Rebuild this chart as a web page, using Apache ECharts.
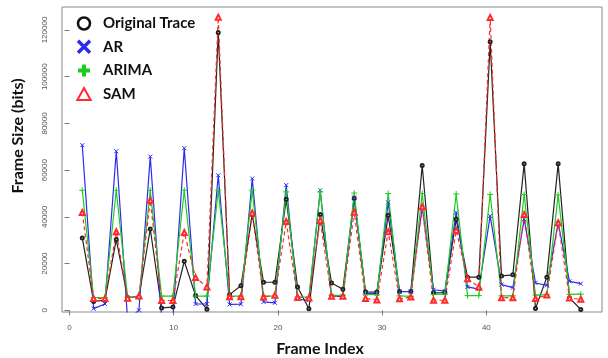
<!DOCTYPE html>
<html>
<head>
<meta charset="utf-8">
<script src="https://cdn.jsdelivr.net/npm/echarts@6/dist/echarts.min.js"></script>
<style>html,body{margin:0;padding:0;background:#fff;}#c{width:608px;height:358px;}</style>
</head>
<body>
<div id="c"></div>
<script>
const frameIndex = [1,2,3,4,5,6,7,8,9,10,11,12,13,14,15,16,17,18,19,20,21,22,23,24,25,26,27,28,29,30,31,32,33,34,35,36,37,38,39,40,41,42,43,44,45];
const originalTrace = [31000,3800,4300,30300,5500,5800,34800,1000,1400,21000,6300,500,118900,6700,10500,41000,12000,12000,47500,10000,700,41000,11700,9000,48000,7900,7800,40700,8100,8000,62000,7500,7600,39000,14200,14200,115000,14700,15200,62700,800,14200,62700,5300,350];
const ar = [70700,700,2700,68100,-4000,0,65800,-3000,-3000,69400,2700,2700,57800,2500,2600,56400,3600,3200,53600,4700,4300,51400,6000,6000,48300,7200,7100,46200,8000,8100,44000,8800,8200,41900,10000,9100,40400,11000,9700,39000,11700,10700,37500,12400,11400];
const arima = [51400,5500,5400,51400,5700,5500,51400,6100,6100,51400,6100,6100,51400,6100,6100,51400,6100,6100,50700,5700,5700,50700,6400,6400,50200,6800,6700,50000,6200,6000,50000,6800,6900,49800,6300,6300,49600,6200,6200,49600,6500,6700,49400,6800,6900];
const sam = [41900,5100,5000,33600,5200,6100,47100,4200,4200,33300,14000,10000,125500,5800,5800,41700,5700,6400,38000,5600,5300,38500,6000,6000,42000,5100,4400,33600,4900,5700,44300,4300,4300,34200,13500,10000,125400,5400,5400,41000,5000,6500,37500,5300,4700];
const xTicks = [0,10,20,30,40];
const yTicks = [0,20000,40000,60000,80000,100000,120000];
const seriesNames = ['Original Trace','AR','ARIMA','SAM'];

const pairs = vals => frameIndex.map((f,i)=>[f, vals[i]]);
const XPATH = 'path://M1,1L9,9M9,1L1,9';
const PLUSPATH = 'path://M5,0L5,10M0,5L10,5';
const TRIPATH = 'path://M5,0L10,9L0,9Z';
const cBlack = '#222222', cBlue = '#2b2bf0', cGreen = '#1ecc1e', cRed = '#ff2a2a';

const chart = echarts.init(document.getElementById('c'), null, {renderer:'canvas'});
chart.setOption({
  animation: false,
  backgroundColor: '#ffffff',
  grid: {left:62, right:6, top:7, bottom:46, show:true, borderColor:'#888888', borderWidth:1},
  xAxis: [
    {type:'value', min:-0.72, max:51.1, position:'bottom',
     axisLine:{show:false},
     axisTick:{show:true, length:5, lineStyle:{color:'#777777'}, customValues:xTicks},
     axisLabel:{customValues:xTicks, fontSize:8, color:'#555555', margin:12, fontFamily:'Liberation Sans', formatter:v=>String(v)},
     splitLine:{show:false}},
    {type:'value', min:-0.79, max:46.87, show:false}
  ],
  yAxis: {type:'value', min:-729, max:129857,
    axisLine:{show:false},
    axisTick:{show:true, length:5, lineStyle:{color:'#777777'}, customValues:yTicks},
    axisLabel:{customValues:yTicks, rotate:90, fontSize:8, color:'#555555', margin:13, fontFamily:'Liberation Sans', formatter:v=>String(v)},
    splitLine:{show:false}},
  legend: {
    orient:'vertical', left:76, top:16, padding:0, itemWidth:28, itemHeight:12, itemGap:8,
    textStyle:{fontFamily:'Lato', fontWeight:'bold', fontSize:15, color:'#111111'},
    data:[
      {name:seriesNames[0], icon:'circle', itemStyle:{color:'rgba(0,0,0,0)', borderColor:'#111111', borderWidth:2.5}},
      {name:seriesNames[1], icon:XPATH, itemStyle:{color:'rgba(0,0,0,0)', borderColor:cBlue, borderWidth:3.5}},
      {name:seriesNames[2], icon:PLUSPATH, itemStyle:{color:'rgba(0,0,0,0)', borderColor:cGreen, borderWidth:4}},
      {name:seriesNames[3], icon:TRIPATH, itemStyle:{color:'rgba(0,0,0,0)', borderColor:cRed, borderWidth:2}}
    ]
  },
  graphic: [
    {type:'text', x:320, y:349, style:{text:'Frame Index', font:'bold 16px Lato', fill:'#111111', align:'center', verticalAlign:'middle'}},
    {type:'text', x:18, y:136, rotation:Math.PI/2, style:{text:'Frame Size (bits)', font:'bold 16px Lato', fill:'#111111', align:'center', verticalAlign:'middle'}}
  ],
  series: [
    {name:seriesNames[0], type:'line', xAxisIndex:1, data:pairs(originalTrace),
     symbol:'emptyCircle', symbolSize:3, lineStyle:{color:cBlack, width:1.2},
     itemStyle:{color:cBlack, borderColor:cBlack, borderWidth:1}},
    {name:seriesNames[1], type:'line', xAxisIndex:1, data:pairs(ar),
     symbol:XPATH, symbolSize:4, lineStyle:{color:cBlue, width:1.2},
     itemStyle:{color:cBlue, borderColor:cBlue, borderWidth:1}},
    {name:seriesNames[2], type:'line', xAxisIndex:1, data:pairs(arima),
     symbol:PLUSPATH, symbolSize:6, lineStyle:{color:cGreen, width:1.2},
     itemStyle:{color:cGreen, borderColor:cGreen, borderWidth:1}},
    {name:seriesNames[3], type:'line', xAxisIndex:1, data:pairs(sam),
     symbol:'emptyTriangle', symbolSize:5, lineStyle:{color:cRed, width:1.2, type:[4,3]},
     itemStyle:{color:cRed, borderColor:cRed, borderWidth:1}}
  ]
});
</script>
</body>
</html>
